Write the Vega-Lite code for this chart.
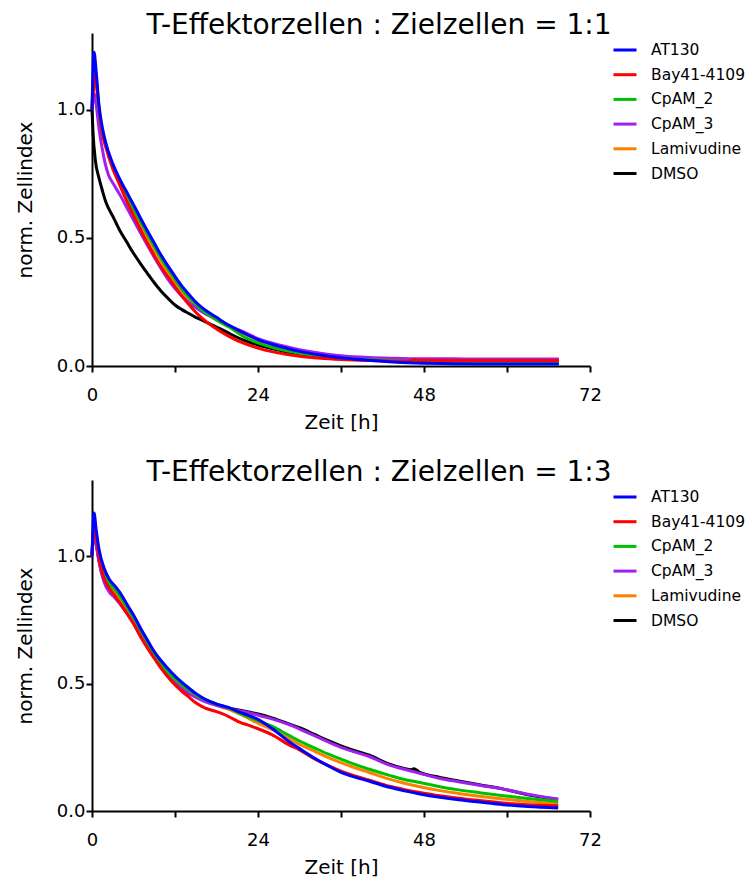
{
  "$schema": "https://vega.github.io/schema/vega-lite/v6.json",
  "background": "white",
  "padding": {"left": 15, "top": 12, "right": 0, "bottom": 0},
  "datasets": {
    "p11": [
      {"s":"DMSO","t":0,"v":1.0},{"s":"DMSO","t":0.15,"v":0.91},{"s":"DMSO","t":0.5,"v":0.8},{"s":"DMSO","t":1,"v":0.735},{"s":"DMSO","t":1.5,"v":0.685},{"s":"DMSO","t":2,"v":0.64},{"s":"DMSO","t":3,"v":0.585},{"s":"DMSO","t":4,"v":0.53},{"s":"DMSO","t":5,"v":0.485},{"s":"DMSO","t":6,"v":0.44},{"s":"DMSO","t":7,"v":0.4},{"s":"DMSO","t":8,"v":0.362},{"s":"DMSO","t":9,"v":0.325},{"s":"DMSO","t":10,"v":0.292},{"s":"DMSO","t":11,"v":0.264},{"s":"DMSO","t":12,"v":0.238},{"s":"DMSO","t":13,"v":0.22},{"s":"DMSO","t":14,"v":0.205},{"s":"DMSO","t":15,"v":0.19},{"s":"DMSO","t":16,"v":0.178},{"s":"DMSO","t":17,"v":0.165},{"s":"DMSO","t":18,"v":0.152},{"s":"DMSO","t":19,"v":0.139},{"s":"DMSO","t":20,"v":0.125},{"s":"DMSO","t":22,"v":0.1},{"s":"DMSO","t":24,"v":0.082},{"s":"DMSO","t":26,"v":0.068},{"s":"DMSO","t":28,"v":0.056},{"s":"DMSO","t":30,"v":0.047},{"s":"DMSO","t":33,"v":0.038},{"s":"DMSO","t":36,"v":0.031},{"s":"DMSO","t":40,"v":0.026},{"s":"DMSO","t":44,"v":0.023},{"s":"DMSO","t":48,"v":0.021},{"s":"DMSO","t":52,"v":0.02},{"s":"DMSO","t":56,"v":0.02},{"s":"DMSO","t":60,"v":0.02},{"s":"DMSO","t":64,"v":0.02},{"s":"DMSO","t":67.5,"v":0.02},
      {"s":"Lamivudine","t":0,"v":1.0},{"s":"Lamivudine","t":0.3,"v":1.13},{"s":"Lamivudine","t":0.6,"v":1.1},{"s":"Lamivudine","t":1,"v":0.99},{"s":"Lamivudine","t":1.5,"v":0.905},{"s":"Lamivudine","t":2,"v":0.855},{"s":"Lamivudine","t":3,"v":0.775},{"s":"Lamivudine","t":4,"v":0.713},{"s":"Lamivudine","t":5,"v":0.66},{"s":"Lamivudine","t":6,"v":0.605},{"s":"Lamivudine","t":7,"v":0.553},{"s":"Lamivudine","t":8,"v":0.503},{"s":"Lamivudine","t":9,"v":0.455},{"s":"Lamivudine","t":10,"v":0.41},{"s":"Lamivudine","t":11,"v":0.367},{"s":"Lamivudine","t":12,"v":0.328},{"s":"Lamivudine","t":13,"v":0.292},{"s":"Lamivudine","t":14,"v":0.262},{"s":"Lamivudine","t":15,"v":0.236},{"s":"Lamivudine","t":16,"v":0.214},{"s":"Lamivudine","t":17,"v":0.196},{"s":"Lamivudine","t":18,"v":0.18},{"s":"Lamivudine","t":19,"v":0.165},{"s":"Lamivudine","t":20,"v":0.152},{"s":"Lamivudine","t":22,"v":0.125},{"s":"Lamivudine","t":24,"v":0.102},{"s":"Lamivudine","t":26,"v":0.085},{"s":"Lamivudine","t":28,"v":0.071},{"s":"Lamivudine","t":30,"v":0.06},{"s":"Lamivudine","t":33,"v":0.048},{"s":"Lamivudine","t":36,"v":0.038},{"s":"Lamivudine","t":40,"v":0.03},{"s":"Lamivudine","t":44,"v":0.025},{"s":"Lamivudine","t":48,"v":0.022},{"s":"Lamivudine","t":52,"v":0.02},{"s":"Lamivudine","t":56,"v":0.02},{"s":"Lamivudine","t":60,"v":0.02},{"s":"Lamivudine","t":64,"v":0.02},{"s":"Lamivudine","t":67.5,"v":0.02},
      {"s":"CpAM_3","t":0,"v":1.0},{"s":"CpAM_3","t":0.2,"v":1.04},{"s":"CpAM_3","t":0.4,"v":1.06},{"s":"CpAM_3","t":0.7,"v":1.0},{"s":"CpAM_3","t":1,"v":0.93},{"s":"CpAM_3","t":1.5,"v":0.845},{"s":"CpAM_3","t":2,"v":0.78},{"s":"CpAM_3","t":2.4,"v":0.745},{"s":"CpAM_3","t":3,"v":0.715},{"s":"CpAM_3","t":4,"v":0.67},{"s":"CpAM_3","t":5,"v":0.62},{"s":"CpAM_3","t":6,"v":0.57},{"s":"CpAM_3","t":7,"v":0.52},{"s":"CpAM_3","t":8,"v":0.472},{"s":"CpAM_3","t":9,"v":0.425},{"s":"CpAM_3","t":10,"v":0.38},{"s":"CpAM_3","t":11,"v":0.338},{"s":"CpAM_3","t":12,"v":0.302},{"s":"CpAM_3","t":13,"v":0.273},{"s":"CpAM_3","t":14,"v":0.248},{"s":"CpAM_3","t":15,"v":0.228},{"s":"CpAM_3","t":16,"v":0.21},{"s":"CpAM_3","t":17,"v":0.195},{"s":"CpAM_3","t":18,"v":0.181},{"s":"CpAM_3","t":19,"v":0.168},{"s":"CpAM_3","t":20,"v":0.156},{"s":"CpAM_3","t":22,"v":0.132},{"s":"CpAM_3","t":24,"v":0.107},{"s":"CpAM_3","t":26,"v":0.09},{"s":"CpAM_3","t":28,"v":0.076},{"s":"CpAM_3","t":30,"v":0.064},{"s":"CpAM_3","t":33,"v":0.05},{"s":"CpAM_3","t":36,"v":0.04},{"s":"CpAM_3","t":40,"v":0.033},{"s":"CpAM_3","t":44,"v":0.03},{"s":"CpAM_3","t":48,"v":0.028},{"s":"CpAM_3","t":52,"v":0.028},{"s":"CpAM_3","t":56,"v":0.027},{"s":"CpAM_3","t":60,"v":0.027},{"s":"CpAM_3","t":64,"v":0.027},{"s":"CpAM_3","t":67.5,"v":0.027},
      {"s":"CpAM_2","t":0,"v":1.0},{"s":"CpAM_2","t":0.3,"v":1.17},{"s":"CpAM_2","t":0.6,"v":1.12},{"s":"CpAM_2","t":1,"v":1.0},{"s":"CpAM_2","t":1.5,"v":0.915},{"s":"CpAM_2","t":2,"v":0.86},{"s":"CpAM_2","t":3,"v":0.78},{"s":"CpAM_2","t":4,"v":0.72},{"s":"CpAM_2","t":5,"v":0.67},{"s":"CpAM_2","t":6,"v":0.615},{"s":"CpAM_2","t":7,"v":0.565},{"s":"CpAM_2","t":8,"v":0.515},{"s":"CpAM_2","t":9,"v":0.467},{"s":"CpAM_2","t":10,"v":0.42},{"s":"CpAM_2","t":11,"v":0.378},{"s":"CpAM_2","t":12,"v":0.338},{"s":"CpAM_2","t":13,"v":0.3},{"s":"CpAM_2","t":14,"v":0.268},{"s":"CpAM_2","t":15,"v":0.24},{"s":"CpAM_2","t":16,"v":0.216},{"s":"CpAM_2","t":17,"v":0.197},{"s":"CpAM_2","t":18,"v":0.18},{"s":"CpAM_2","t":19,"v":0.164},{"s":"CpAM_2","t":20,"v":0.149},{"s":"CpAM_2","t":22,"v":0.113},{"s":"CpAM_2","t":24,"v":0.09},{"s":"CpAM_2","t":26,"v":0.073},{"s":"CpAM_2","t":28,"v":0.06},{"s":"CpAM_2","t":30,"v":0.05},{"s":"CpAM_2","t":33,"v":0.039},{"s":"CpAM_2","t":36,"v":0.03},{"s":"CpAM_2","t":40,"v":0.024},{"s":"CpAM_2","t":44,"v":0.02},{"s":"CpAM_2","t":48,"v":0.017},{"s":"CpAM_2","t":52,"v":0.016},{"s":"CpAM_2","t":56,"v":0.015},{"s":"CpAM_2","t":60,"v":0.015},{"s":"CpAM_2","t":64,"v":0.015},{"s":"CpAM_2","t":67.5,"v":0.015},
      {"s":"Bay41-4109","t":0,"v":1.0},{"s":"Bay41-4109","t":0.3,"v":1.1},{"s":"Bay41-4109","t":0.5,"v":1.14},{"s":"Bay41-4109","t":0.8,"v":1.07},{"s":"Bay41-4109","t":1,"v":1.01},{"s":"Bay41-4109","t":1.5,"v":0.91},{"s":"Bay41-4109","t":2,"v":0.855},{"s":"Bay41-4109","t":3,"v":0.77},{"s":"Bay41-4109","t":4,"v":0.707},{"s":"Bay41-4109","t":5,"v":0.645},{"s":"Bay41-4109","t":6,"v":0.588},{"s":"Bay41-4109","t":7,"v":0.533},{"s":"Bay41-4109","t":8,"v":0.48},{"s":"Bay41-4109","t":9,"v":0.432},{"s":"Bay41-4109","t":10,"v":0.387},{"s":"Bay41-4109","t":11,"v":0.348},{"s":"Bay41-4109","t":12,"v":0.31},{"s":"Bay41-4109","t":13,"v":0.273},{"s":"Bay41-4109","t":14,"v":0.24},{"s":"Bay41-4109","t":15,"v":0.21},{"s":"Bay41-4109","t":16,"v":0.185},{"s":"Bay41-4109","t":17,"v":0.163},{"s":"Bay41-4109","t":18,"v":0.145},{"s":"Bay41-4109","t":19,"v":0.128},{"s":"Bay41-4109","t":20,"v":0.113},{"s":"Bay41-4109","t":22,"v":0.088},{"s":"Bay41-4109","t":24,"v":0.07},{"s":"Bay41-4109","t":26,"v":0.056},{"s":"Bay41-4109","t":28,"v":0.046},{"s":"Bay41-4109","t":30,"v":0.038},{"s":"Bay41-4109","t":33,"v":0.03},{"s":"Bay41-4109","t":36,"v":0.025},{"s":"Bay41-4109","t":40,"v":0.021},{"s":"Bay41-4109","t":44,"v":0.019},{"s":"Bay41-4109","t":46,"v":0.019},{"s":"Bay41-4109","t":46.5,"v":0.025},{"s":"Bay41-4109","t":47.5,"v":0.022},{"s":"Bay41-4109","t":52,"v":0.021},{"s":"Bay41-4109","t":56,"v":0.021},{"s":"Bay41-4109","t":60,"v":0.021},{"s":"Bay41-4109","t":64,"v":0.021},{"s":"Bay41-4109","t":67.5,"v":0.021},
      {"s":"AT130","t":0,"v":1.0},{"s":"AT130","t":0.3,"v":1.225},{"s":"AT130","t":0.6,"v":1.15},{"s":"AT130","t":1,"v":1.02},{"s":"AT130","t":1.5,"v":0.93},{"s":"AT130","t":2,"v":0.87},{"s":"AT130","t":3,"v":0.79},{"s":"AT130","t":4,"v":0.73},{"s":"AT130","t":5,"v":0.68},{"s":"AT130","t":6,"v":0.63},{"s":"AT130","t":7,"v":0.578},{"s":"AT130","t":8,"v":0.528},{"s":"AT130","t":9,"v":0.48},{"s":"AT130","t":10,"v":0.432},{"s":"AT130","t":11,"v":0.39},{"s":"AT130","t":12,"v":0.35},{"s":"AT130","t":13,"v":0.312},{"s":"AT130","t":14,"v":0.28},{"s":"AT130","t":15,"v":0.25},{"s":"AT130","t":16,"v":0.226},{"s":"AT130","t":17,"v":0.207},{"s":"AT130","t":18,"v":0.19},{"s":"AT130","t":19,"v":0.172},{"s":"AT130","t":20,"v":0.156},{"s":"AT130","t":22,"v":0.128},{"s":"AT130","t":24,"v":0.103},{"s":"AT130","t":26,"v":0.085},{"s":"AT130","t":28,"v":0.07},{"s":"AT130","t":30,"v":0.057},{"s":"AT130","t":33,"v":0.043},{"s":"AT130","t":36,"v":0.032},{"s":"AT130","t":40,"v":0.022},{"s":"AT130","t":44,"v":0.015},{"s":"AT130","t":48,"v":0.011},{"s":"AT130","t":52,"v":0.009},{"s":"AT130","t":56,"v":0.008},{"s":"AT130","t":60,"v":0.008},{"s":"AT130","t":64,"v":0.008},{"s":"AT130","t":67.5,"v":0.008}
    ],
    "p13": [
      {"s":"DMSO","t":0,"v":1.0},{"s":"DMSO","t":0.3,"v":1.1},{"s":"DMSO","t":0.6,"v":1.05},{"s":"DMSO","t":1,"v":0.985},{"s":"DMSO","t":1.8,"v":0.9},{"s":"DMSO","t":2.5,"v":0.865},{"s":"DMSO","t":3.3,"v":0.842},{"s":"DMSO","t":4,"v":0.818},{"s":"DMSO","t":5.2,"v":0.775},{"s":"DMSO","t":6,"v":0.742},{"s":"DMSO","t":7.1,"v":0.69},{"s":"DMSO","t":8,"v":0.65},{"s":"DMSO","t":9.1,"v":0.605},{"s":"DMSO","t":10,"v":0.568},{"s":"DMSO","t":11.5,"v":0.52},{"s":"DMSO","t":13,"v":0.485},{"s":"DMSO","t":13.9,"v":0.468},{"s":"DMSO","t":15,"v":0.452},{"s":"DMSO","t":16.3,"v":0.436},{"s":"DMSO","t":18,"v":0.42},{"s":"DMSO","t":19.7,"v":0.405},{"s":"DMSO","t":21.4,"v":0.396},{"s":"DMSO","t":22.5,"v":0.39},{"s":"DMSO","t":24.2,"v":0.38},{"s":"DMSO","t":26,"v":0.366},{"s":"DMSO","t":28.6,"v":0.341},{"s":"DMSO","t":30,"v":0.327},{"s":"DMSO","t":32,"v":0.303},{"s":"DMSO","t":34,"v":0.278},{"s":"DMSO","t":36,"v":0.256},{"s":"DMSO","t":38,"v":0.237},{"s":"DMSO","t":40,"v":0.22},{"s":"DMSO","t":43,"v":0.184},{"s":"DMSO","t":45,"v":0.168},{"s":"DMSO","t":46.2,"v":0.162},{"s":"DMSO","t":46.5,"v":0.166},{"s":"DMSO","t":47.4,"v":0.152},{"s":"DMSO","t":50.3,"v":0.132},{"s":"DMSO","t":53,"v":0.118},{"s":"DMSO","t":56,"v":0.103},{"s":"DMSO","t":59.5,"v":0.086},{"s":"DMSO","t":63,"v":0.064},{"s":"DMSO","t":67.4,"v":0.045},
      {"s":"Lamivudine","t":0,"v":1.0},{"s":"Lamivudine","t":0.3,"v":1.13},{"s":"Lamivudine","t":0.6,"v":1.08},{"s":"Lamivudine","t":1,"v":1.01},{"s":"Lamivudine","t":1.8,"v":0.92},{"s":"Lamivudine","t":2.5,"v":0.885},{"s":"Lamivudine","t":3.3,"v":0.86},{"s":"Lamivudine","t":4,"v":0.835},{"s":"Lamivudine","t":5.2,"v":0.787},{"s":"Lamivudine","t":6,"v":0.752},{"s":"Lamivudine","t":7.1,"v":0.698},{"s":"Lamivudine","t":8,"v":0.655},{"s":"Lamivudine","t":9.1,"v":0.603},{"s":"Lamivudine","t":10,"v":0.57},{"s":"Lamivudine","t":11.5,"v":0.523},{"s":"Lamivudine","t":13,"v":0.488},{"s":"Lamivudine","t":13.9,"v":0.47},{"s":"Lamivudine","t":15,"v":0.452},{"s":"Lamivudine","t":16.3,"v":0.432},{"s":"Lamivudine","t":18,"v":0.415},{"s":"Lamivudine","t":19.7,"v":0.4},{"s":"Lamivudine","t":21.4,"v":0.38},{"s":"Lamivudine","t":24,"v":0.345},{"s":"Lamivudine","t":26,"v":0.32},{"s":"Lamivudine","t":28.6,"v":0.282},{"s":"Lamivudine","t":30,"v":0.262},{"s":"Lamivudine","t":32,"v":0.237},{"s":"Lamivudine","t":34,"v":0.212},{"s":"Lamivudine","t":36,"v":0.19},{"s":"Lamivudine","t":38,"v":0.17},{"s":"Lamivudine","t":40,"v":0.152},{"s":"Lamivudine","t":43,"v":0.125},{"s":"Lamivudine","t":45,"v":0.11},{"s":"Lamivudine","t":47.4,"v":0.095},{"s":"Lamivudine","t":50.3,"v":0.08},{"s":"Lamivudine","t":53,"v":0.069},{"s":"Lamivudine","t":56,"v":0.058},{"s":"Lamivudine","t":59.5,"v":0.047},{"s":"Lamivudine","t":63,"v":0.037},{"s":"Lamivudine","t":67.4,"v":0.027},
      {"s":"CpAM_3","t":0,"v":1.0},{"s":"CpAM_3","t":0.3,"v":1.1},{"s":"CpAM_3","t":0.6,"v":1.05},{"s":"CpAM_3","t":1,"v":0.98},{"s":"CpAM_3","t":1.8,"v":0.895},{"s":"CpAM_3","t":2.5,"v":0.86},{"s":"CpAM_3","t":3.3,"v":0.838},{"s":"CpAM_3","t":4,"v":0.815},{"s":"CpAM_3","t":5.2,"v":0.77},{"s":"CpAM_3","t":6,"v":0.738},{"s":"CpAM_3","t":7.1,"v":0.685},{"s":"CpAM_3","t":8,"v":0.645},{"s":"CpAM_3","t":9.1,"v":0.6},{"s":"CpAM_3","t":10,"v":0.563},{"s":"CpAM_3","t":11.5,"v":0.515},{"s":"CpAM_3","t":13,"v":0.48},{"s":"CpAM_3","t":13.9,"v":0.463},{"s":"CpAM_3","t":15,"v":0.447},{"s":"CpAM_3","t":16.3,"v":0.43},{"s":"CpAM_3","t":18,"v":0.415},{"s":"CpAM_3","t":19.7,"v":0.403},{"s":"CpAM_3","t":21.4,"v":0.393},{"s":"CpAM_3","t":22.5,"v":0.387},{"s":"CpAM_3","t":24.2,"v":0.375},{"s":"CpAM_3","t":26,"v":0.362},{"s":"CpAM_3","t":28.6,"v":0.338},{"s":"CpAM_3","t":30,"v":0.322},{"s":"CpAM_3","t":32,"v":0.298},{"s":"CpAM_3","t":34,"v":0.273},{"s":"CpAM_3","t":36,"v":0.25},{"s":"CpAM_3","t":38,"v":0.232},{"s":"CpAM_3","t":40,"v":0.215},{"s":"CpAM_3","t":43,"v":0.18},{"s":"CpAM_3","t":45,"v":0.165},{"s":"CpAM_3","t":47.4,"v":0.148},{"s":"CpAM_3","t":50.3,"v":0.128},{"s":"CpAM_3","t":53,"v":0.115},{"s":"CpAM_3","t":56,"v":0.101},{"s":"CpAM_3","t":59.5,"v":0.086},{"s":"CpAM_3","t":63,"v":0.066},{"s":"CpAM_3","t":67.4,"v":0.047},
      {"s":"CpAM_2","t":0,"v":1.0},{"s":"CpAM_2","t":0.3,"v":1.14},{"s":"CpAM_2","t":0.6,"v":1.09},{"s":"CpAM_2","t":1,"v":1.02},{"s":"CpAM_2","t":1.8,"v":0.93},{"s":"CpAM_2","t":2.5,"v":0.895},{"s":"CpAM_2","t":3.3,"v":0.87},{"s":"CpAM_2","t":4,"v":0.845},{"s":"CpAM_2","t":5.2,"v":0.795},{"s":"CpAM_2","t":6,"v":0.76},{"s":"CpAM_2","t":7.1,"v":0.705},{"s":"CpAM_2","t":8,"v":0.662},{"s":"CpAM_2","t":9.1,"v":0.61},{"s":"CpAM_2","t":10,"v":0.578},{"s":"CpAM_2","t":11.5,"v":0.53},{"s":"CpAM_2","t":13,"v":0.495},{"s":"CpAM_2","t":13.9,"v":0.477},{"s":"CpAM_2","t":15,"v":0.457},{"s":"CpAM_2","t":16.3,"v":0.438},{"s":"CpAM_2","t":18,"v":0.42},{"s":"CpAM_2","t":19.7,"v":0.405},{"s":"CpAM_2","t":21.4,"v":0.383},{"s":"CpAM_2","t":24,"v":0.355},{"s":"CpAM_2","t":26,"v":0.333},{"s":"CpAM_2","t":28.6,"v":0.295},{"s":"CpAM_2","t":30,"v":0.275},{"s":"CpAM_2","t":32,"v":0.25},{"s":"CpAM_2","t":34,"v":0.225},{"s":"CpAM_2","t":36,"v":0.204},{"s":"CpAM_2","t":38,"v":0.183},{"s":"CpAM_2","t":40,"v":0.165},{"s":"CpAM_2","t":43,"v":0.14},{"s":"CpAM_2","t":45,"v":0.125},{"s":"CpAM_2","t":47.4,"v":0.112},{"s":"CpAM_2","t":50.3,"v":0.095},{"s":"CpAM_2","t":53,"v":0.083},{"s":"CpAM_2","t":56,"v":0.072},{"s":"CpAM_2","t":59.5,"v":0.06},{"s":"CpAM_2","t":63,"v":0.049},{"s":"CpAM_2","t":67.4,"v":0.037},
      {"s":"Bay41-4109","t":0,"v":1.0},{"s":"Bay41-4109","t":0.3,"v":1.12},{"s":"Bay41-4109","t":0.6,"v":1.075},{"s":"Bay41-4109","t":1,"v":1.0},{"s":"Bay41-4109","t":1.8,"v":0.91},{"s":"Bay41-4109","t":2.5,"v":0.875},{"s":"Bay41-4109","t":3.3,"v":0.845},{"s":"Bay41-4109","t":4,"v":0.818},{"s":"Bay41-4109","t":5.2,"v":0.77},{"s":"Bay41-4109","t":6,"v":0.735},{"s":"Bay41-4109","t":7.1,"v":0.68},{"s":"Bay41-4109","t":8,"v":0.64},{"s":"Bay41-4109","t":9.1,"v":0.596},{"s":"Bay41-4109","t":10,"v":0.56},{"s":"Bay41-4109","t":11.5,"v":0.51},{"s":"Bay41-4109","t":13,"v":0.47},{"s":"Bay41-4109","t":13.9,"v":0.45},{"s":"Bay41-4109","t":15,"v":0.425},{"s":"Bay41-4109","t":16.3,"v":0.405},{"s":"Bay41-4109","t":18,"v":0.39},{"s":"Bay41-4109","t":19.7,"v":0.372},{"s":"Bay41-4109","t":21.4,"v":0.348},{"s":"Bay41-4109","t":22.5,"v":0.338},{"s":"Bay41-4109","t":24,"v":0.323},{"s":"Bay41-4109","t":26,"v":0.3},{"s":"Bay41-4109","t":28.6,"v":0.258},{"s":"Bay41-4109","t":30,"v":0.24},{"s":"Bay41-4109","t":32,"v":0.207},{"s":"Bay41-4109","t":34,"v":0.18},{"s":"Bay41-4109","t":36,"v":0.157},{"s":"Bay41-4109","t":38,"v":0.138},{"s":"Bay41-4109","t":40,"v":0.122},{"s":"Bay41-4109","t":43,"v":0.097},{"s":"Bay41-4109","t":45,"v":0.085},{"s":"Bay41-4109","t":47.4,"v":0.073},{"s":"Bay41-4109","t":50.3,"v":0.06},{"s":"Bay41-4109","t":53,"v":0.05},{"s":"Bay41-4109","t":56,"v":0.041},{"s":"Bay41-4109","t":59.5,"v":0.031},{"s":"Bay41-4109","t":63,"v":0.025},{"s":"Bay41-4109","t":67.4,"v":0.021},
      {"s":"AT130","t":0,"v":1.0},{"s":"AT130","t":0.3,"v":1.17},{"s":"AT130","t":0.6,"v":1.105},{"s":"AT130","t":1,"v":1.03},{"s":"AT130","t":1.8,"v":0.95},{"s":"AT130","t":2.5,"v":0.91},{"s":"AT130","t":3.3,"v":0.884},{"s":"AT130","t":4,"v":0.86},{"s":"AT130","t":5.2,"v":0.805},{"s":"AT130","t":6,"v":0.77},{"s":"AT130","t":7.1,"v":0.714},{"s":"AT130","t":8,"v":0.672},{"s":"AT130","t":9.1,"v":0.622},{"s":"AT130","t":10,"v":0.59},{"s":"AT130","t":11.5,"v":0.544},{"s":"AT130","t":13,"v":0.505},{"s":"AT130","t":13.9,"v":0.485},{"s":"AT130","t":15,"v":0.462},{"s":"AT130","t":16.3,"v":0.44},{"s":"AT130","t":18,"v":0.42},{"s":"AT130","t":19.7,"v":0.407},{"s":"AT130","t":21.4,"v":0.387},{"s":"AT130","t":22.5,"v":0.377},{"s":"AT130","t":24,"v":0.36},{"s":"AT130","t":26,"v":0.325},{"s":"AT130","t":28.6,"v":0.27},{"s":"AT130","t":30,"v":0.245},{"s":"AT130","t":32,"v":0.21},{"s":"AT130","t":34,"v":0.18},{"s":"AT130","t":36,"v":0.152},{"s":"AT130","t":38,"v":0.133},{"s":"AT130","t":40,"v":0.118},{"s":"AT130","t":43,"v":0.093},{"s":"AT130","t":45,"v":0.08},{"s":"AT130","t":47.4,"v":0.067},{"s":"AT130","t":50.3,"v":0.054},{"s":"AT130","t":53,"v":0.044},{"s":"AT130","t":56,"v":0.035},{"s":"AT130","t":59.5,"v":0.025},{"s":"AT130","t":63,"v":0.018},{"s":"AT130","t":67.4,"v":0.012}
    ]
  },
  "config": {
    "view": {"stroke": null},
    "font": "DejaVu Sans",
    "axis": {"grid": false, "domainColor": "black", "domainWidth": 2, "tickColor": "black", "tickWidth": 2, "tickSize": 6, "labelFont": "DejaVu Sans", "labelFontSize": 18, "labelColor": "black", "titleFont": "DejaVu Sans", "titleFontSize": 20, "titleFontWeight": "normal", "titleColor": "black"},
    "legend": {"title": null, "symbolType": "stroke", "symbolStrokeWidth": 3, "symbolSize": 529, "labelFont": "DejaVu Sans", "labelFontSize": 15.5, "labelColor": "black", "labelOffset": 13, "rowPadding": 2.7, "offset": 18, "padding": 4, "orient": "right"},
    "title": {"font": "DejaVu Sans", "fontSize": 28, "fontWeight": "normal", "color": "black", "anchor": "middle", "baseline": "alphabetic", "offset": -7, "dx": 38},
    "line": {"strokeWidth": 3, "interpolate": "monotone"}
  },
  "spacing": 27,
  "resolve": {"scale": {"color": "independent"}, "legend": {"color": "independent"}},
  "vconcat": [
    {
      "title": "T-Effektorzellen : Zielzellen = 1:1",
      "width": 498, "height": 333,
      "data": {"name": "p11"},
      "mark": {"type": "line"},
      "encoding": {
        "x": {"field": "t", "type": "quantitative", "scale": {"domain": [0, 72], "nice": false}, "axis": {"title": "Zeit [h]", "values": [0, 12, 24, 36, 48, 60, 72], "labelExpr": "datum.value % 24 == 0 ? datum.label : ''", "labelPadding": 14, "titlePadding": 8, "labelFlush": false, "labelOverlap": false}},
        "y": {"field": "v", "type": "quantitative", "scale": {"domain": [0, 1.3], "nice": false}, "axis": {"title": "norm. Zellindex", "values": [0, 0.5, 1.0], "format": ".1f", "labelPadding": 1, "titlePadding": 21}},
        "color": {"field": "s", "type": "nominal", "scale": {"domain": ["AT130", "Bay41-4109", "CpAM_2", "CpAM_3", "Lamivudine", "DMSO"], "range": ["#0000ff", "#ff0000", "#00c000", "#a020f0", "#ff8000", "#000000"]}}
      }
    },
    {
      "title": "T-Effektorzellen : Zielzellen = 1:3",
      "width": 498, "height": 331,
      "data": {"name": "p13"},
      "mark": {"type": "line"},
      "encoding": {
        "x": {"field": "t", "type": "quantitative", "scale": {"domain": [0, 72], "nice": false}, "axis": {"title": "Zeit [h]", "values": [0, 12, 24, 36, 48, 60, 72], "labelExpr": "datum.value % 24 == 0 ? datum.label : ''", "labelPadding": 14, "titlePadding": 8, "labelFlush": false, "labelOverlap": false}},
        "y": {"field": "v", "type": "quantitative", "scale": {"domain": [0, 1.3], "nice": false}, "axis": {"title": "norm. Zellindex", "values": [0, 0.5, 1.0], "format": ".1f", "labelPadding": 1, "titlePadding": 21}},
        "color": {"field": "s", "type": "nominal", "scale": {"domain": ["AT130", "Bay41-4109", "CpAM_2", "CpAM_3", "Lamivudine", "DMSO"], "range": ["#0000ff", "#ff0000", "#00c000", "#a020f0", "#ff8000", "#000000"]}}
      }
    }
  ]
}
